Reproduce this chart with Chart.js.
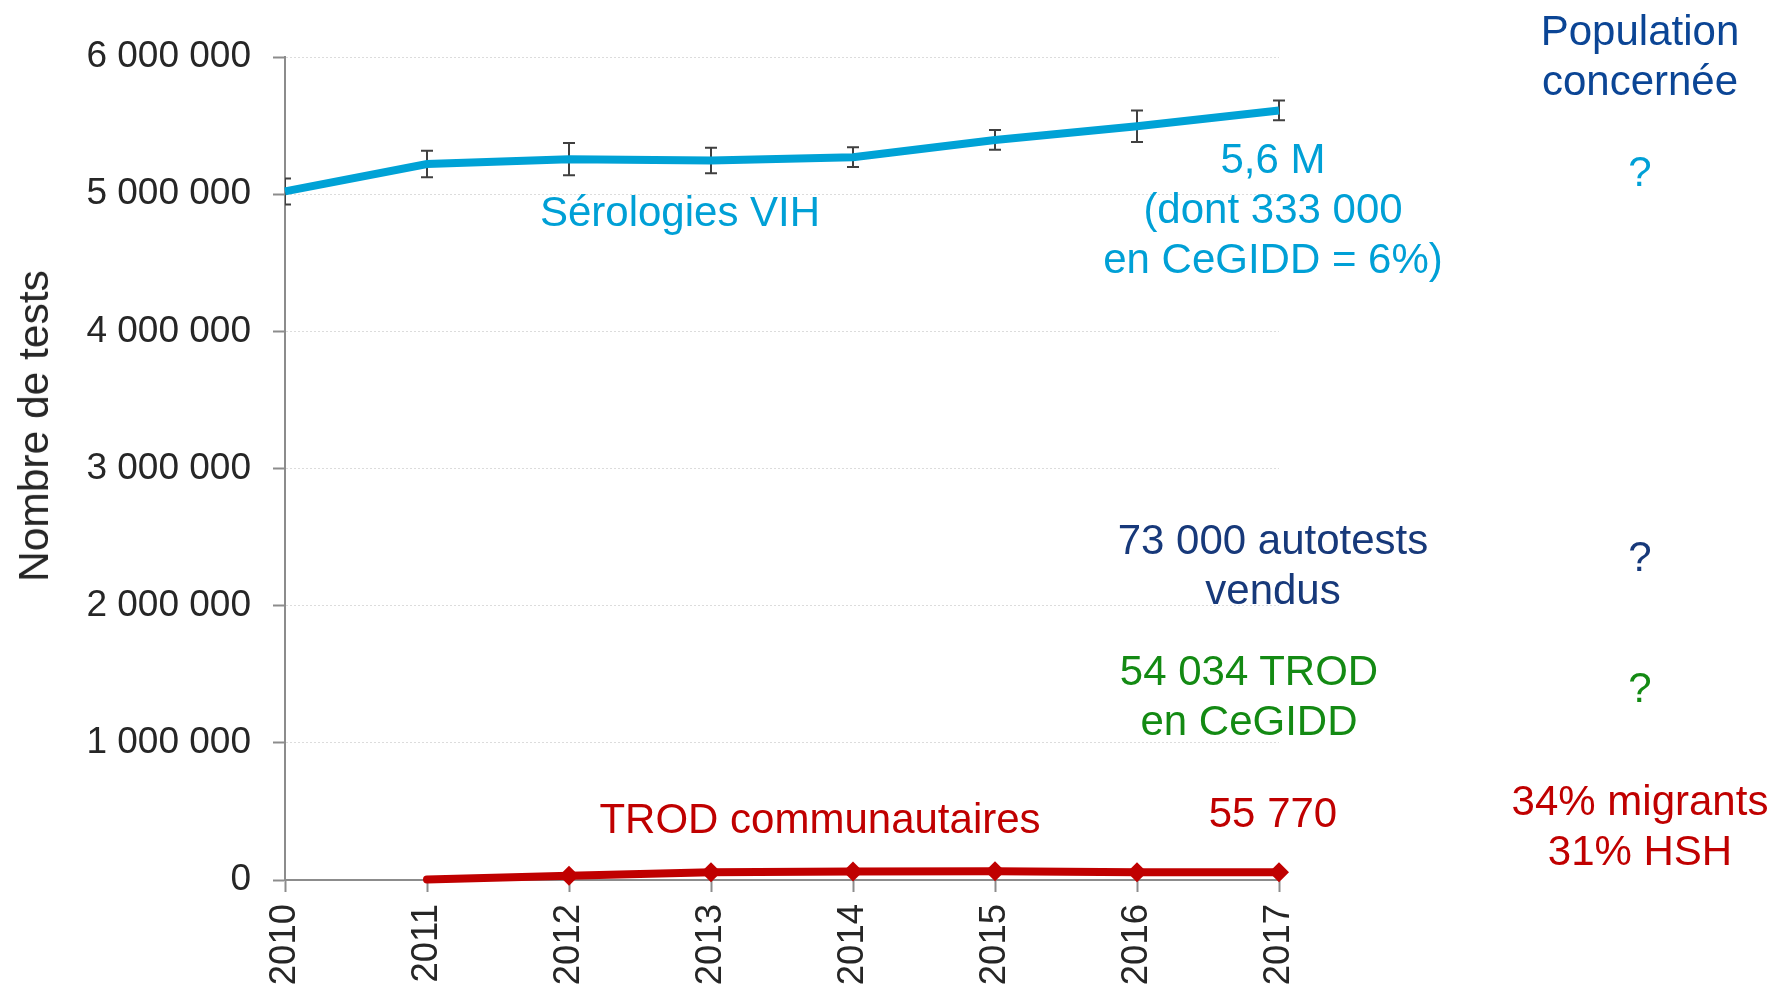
<!DOCTYPE html>
<html>
<head>
<meta charset="utf-8">
<script src="https://cdn.jsdelivr.net/npm/chart.js@4.4.0/dist/chart.umd.min.js"></script>
<style>
  body { margin: 0; background: #fff; }
  #wrap { position: relative; width: 1778px; height: 988px; }
  .note {
    position: absolute;
    transform: translateX(-50%);
    text-align: center;
    white-space: nowrap;
    font-family: "Liberation Sans", Arial, sans-serif;
    font-size: 42px;
    line-height: 50px;
  }
  #ytitle {
    position: absolute;
    left: 34px;
    top: 426px;
    transform: translate(-50%, -50%) rotate(-90deg);
    white-space: nowrap;
    font-family: "Liberation Sans", Arial, sans-serif;
    font-size: 42.5px;
    line-height: 50px;
    color: #262626;
  }
</style>
</head>
<body>
<div id="wrap">
  <canvas id="chart" width="1778" height="988"></canvas>
  <div id="ytitle">Nombre de tests</div>
</div>
<script>
// données
const years = ['2010', '2011', '2012', '2013', '2014', '2015', '2016', '2017'];
const serologies = [5020000, 5220000, 5255000, 5245000, 5270000, 5395000, 5495000, 5610000];
const serologiesErr = [95000, 97000, 118000, 93000, 72000, 72000, 115000, 72000];
const trodCommunautaires = [null, 4000, 31000, 56000, 62000, 63000, 57000, 55770];
const yTicks = [0, 1000000, 2000000, 3000000, 4000000, 5000000, 6000000];

const CYAN = '#00a0d6';
const RED = '#c00000';
const FONT = '"Liberation Sans", Arial, sans-serif';

const fmt = v => v.toString().replace(/\B(?=(\d{3})+(?!\d))/g, ' ');

// barres d'erreur des sérologies (dessinées sous la courbe)
const errorBars = {
    id: 'errorBars',
    beforeDatasetsDraw(chart) {
        const {ctx, chartArea} = chart;
        const x = chart.scales.x, y = chart.scales.y;
        ctx.save();
        ctx.beginPath();
        ctx.rect(chartArea.left, 0, chart.width - chartArea.left, chart.height);
        ctx.clip();
        ctx.strokeStyle = '#404040';
        ctx.lineWidth = 2;
        serologies.forEach((v, i) => {
            const px = x.getPixelForValue(i);
            const top = y.getPixelForValue(v + serologiesErr[i]);
            const bot = y.getPixelForValue(v - serologiesErr[i]);
            ctx.beginPath();
            ctx.moveTo(px, top); ctx.lineTo(px, bot);
            ctx.moveTo(px - 6, top); ctx.lineTo(px + 6, top);
            ctx.moveTo(px - 6, bot); ctx.lineTo(px + 6, bot);
            ctx.stroke();
        });
        ctx.restore();
    }
};

new Chart(document.getElementById('chart'), {
    type: 'line',
    data: {
        labels: years,
        datasets: [{
            label: 'Sérologies VIH',
            data: serologies,
            borderColor: '#00a2d6',
            borderWidth: 8,
            pointRadius: 0,
            tension: 0,
            clip: 20
        }, {
            label: 'TROD communautaires',
            data: trodCommunautaires,
            borderColor: RED,
            backgroundColor: RED,
            borderWidth: 8,
            borderCapStyle: 'round',
            pointStyle: 'rectRot',
            pointRadius: [0, 0, 10, 10, 10, 10, 10, 10],
            pointBorderWidth: 0,
            tension: 0,
            clip: 20
        }]
    },
    options: {
        responsive: false,
        animation: false,
        events: [],
        layout: { padding: { top: 57, right: 499, bottom: 0, left: 0 } },
        plugins: { legend: { display: false }, tooltip: { enabled: false } },
        scales: {
            x: {
                offset: false,
                afterFit: s => { s.height = 108; },
                grid: { drawOnChartArea: false, tickLength: 12, tickColor: '#8c8c8c', tickWidth: 2 },
                border: { color: '#8c8c8c', width: 2 },
                ticks: {
                    autoSkip: false,
                    minRotation: 90,
                    maxRotation: 90,
                    padding: 12,
                    color: '#262626',
                    font: { family: FONT, size: 36.5 }
                }
            },
            y: {
                min: 0,
                max: 6000000,
                afterFit: s => { s.width = 285; },
                afterBuildTicks: s => { s.ticks = yTicks.map(v => ({ value: v })); },
                grid: { color: '#dcdcdc', lineWidth: 1, tickLength: 12, tickColor: '#8c8c8c', tickWidth: 2 },
                border: { color: '#8c8c8c', width: 2, dash: [2, 2] },
                ticks: {
                    padding: 22,
                    color: '#262626',
                    font: { family: FONT, size: 37 },
                    callback: v => fmt(v)
                }
            }
        }
    },
    plugins: [errorBars]
});

// annotations
const notes = [
    { lines: ['Population', 'concernée'], x: 1640, y: 31, color: '#0b4595' },
    { lines: ['?'], x: 1640, y: 172, color: CYAN },
    { lines: ['Sérologies VIH'], x: 680, y: 212, color: CYAN },
    { lines: ['5,6 M', '(dont 333 000', 'en CeGIDD = 6%)'], x: 1273, y: 159, color: CYAN },
    { lines: ['73 000 autotests', 'vendus'], x: 1273, y: 540, color: '#17397a' },
    { lines: ['?'], x: 1640, y: 557, color: '#17397a' },
    { lines: ['54 034 TROD', 'en CeGIDD'], x: 1249, y: 671, color: '#138a13' },
    { lines: ['?'], x: 1640, y: 688, color: '#138a13' },
    { lines: ['TROD communautaires'], x: 820, y: 819, color: RED },
    { lines: ['55 770'], x: 1273, y: 813, color: RED },
    { lines: ['34% migrants', '31% HSH'], x: 1640, y: 801, color: RED }
];
const wrap = document.getElementById('wrap');
notes.forEach(n => {
    const d = document.createElement('div');
    d.className = 'note';
    d.style.left = n.x + 'px';
    d.style.top = (n.y - 25) + 'px';
    d.style.color = n.color;
    d.innerHTML = n.lines.join('<br>');
    wrap.appendChild(d);
});
</script>
</body>
</html>
